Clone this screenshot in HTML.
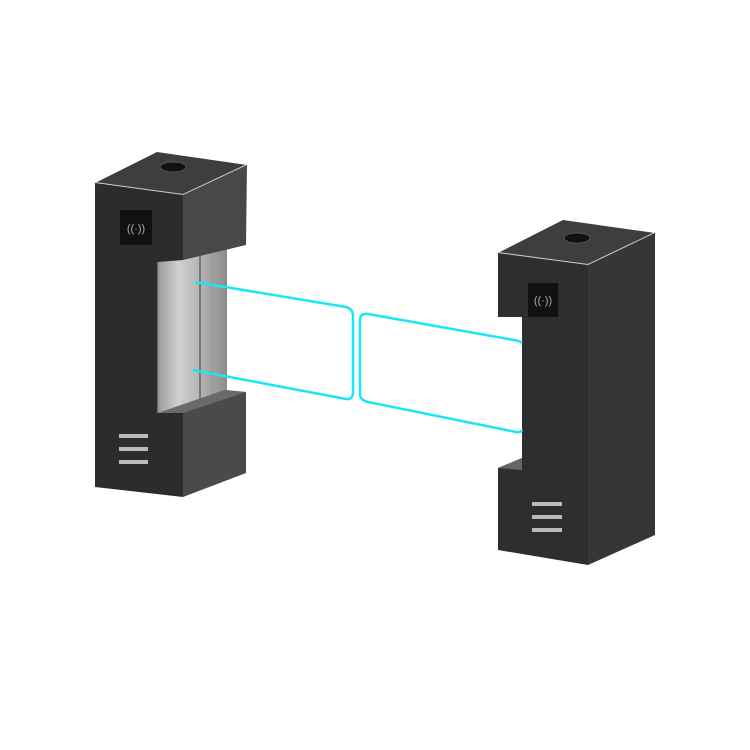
<!DOCTYPE html>
<html><head><style>html,body{margin:0;padding:0;background:#fff;width:750px;height:750px;overflow:hidden}</style></head>
<body>
<svg width="750" height="750" viewBox="0 0 750 750" xmlns="http://www.w3.org/2000/svg">
<defs>
<linearGradient id="glass" x1="0" x2="1" y1="0" y2="0">
<stop offset="0" stop-color="#9a9a9a"/><stop offset="0.3" stop-color="#d0d0d0"/><stop offset="0.6" stop-color="#b5b5b5"/><stop offset="1" stop-color="#8c8c8c"/>
</linearGradient>
</defs>
<!-- LEFT PILLAR -->
<polygon points="158,262 183,258 227,245 227,392 183,413 158,413" fill="url(#glass)"/>
<line x1="200" y1="255" x2="200" y2="402" stroke="#777" stroke-width="2"/>
<line x1="212" y1="251" x2="212" y2="398" stroke="#999" stroke-width="1.5"/>
<!-- top face -->
<polygon points="95,183 157,152 247,165 183,195" fill="#3e3e3e"/>
<polyline points="95,183 183,195 247,165" fill="none" stroke="#cfcfcf" stroke-width="2"/>
<ellipse cx="173" cy="167" rx="13" ry="5" fill="#111" stroke="#555"/>
<!-- upper right face -->
<polygon points="183,195 247,165 246,245 183,260" fill="#484848"/>
<!-- lower block right face -->
<polygon points="158,413 225,390 246,392 246,473 183,497 183,413" fill="#4a4a4a"/>
<polygon points="158,413 183,413 246,392 225,390" fill="#6a6a6a"/>
<!-- front face -->
<polygon points="95,183 183,195 183,260 158,262 158,413 183,413 183,497 95,487" fill="#2c2c2c"/>
<line x1="158" y1="262" x2="158" y2="413" stroke="#888" stroke-width="1.5"/>
<!-- card reader -->
<rect x="120" y="210" width="32" height="35" fill="#111"/>
<text x="136" y="232" font-family="Liberation Sans, sans-serif" font-size="11" fill="#aaa" text-anchor="middle">((·))</text>
<!-- vents -->
<rect x="119" y="434" width="29" height="4" fill="#bbb"/>
<rect x="119" y="447" width="29" height="4" fill="#bbb"/>
<rect x="119" y="460" width="29" height="4" fill="#bbb"/>

<!-- RIGHT PILLAR -->
<polygon points="498,253 563,220 655,233 588,265" fill="#3e3e3e"/>
<polyline points="498,253 588,265 655,233" fill="none" stroke="#cfcfcf" stroke-width="2"/>
<ellipse cx="577" cy="238" rx="13" ry="5" fill="#111" stroke="#555"/>
<polygon points="588,265 655,233 655,535 588,565" fill="#363636"/>
<polygon points="498,253 588,265 588,565 498,550 498,468 522,458 522,317 498,317" fill="#2e2e2e"/>
<polygon points="498,468 522,458 522,470" fill="#666"/>
<rect x="528" y="283" width="30" height="34" fill="#111"/>
<text x="543" y="304" font-family="Liberation Sans, sans-serif" font-size="11" fill="#aaa" text-anchor="middle">((·))</text>
<rect x="532" y="502" width="30" height="4" fill="#bbb"/>
<rect x="532" y="515" width="30" height="4" fill="#bbb"/>
<rect x="532" y="528" width="30" height="4" fill="#bbb"/>

<!-- cyan panels -->
<path d="M195,282 L346,307 Q353,309 353,316 L353,392 Q353,400 346,399 L193,370" fill="none" stroke="#19e8f0" stroke-width="2.5"/>
<path d="M522,343 Q520,341 514,340 L368,314 Q360,313 360,320 L360,394 Q360,400 368,402 L516,432 Q521,433 522,430" fill="none" stroke="#19e8f0" stroke-width="2.5"/>
</svg>
</body></html>
